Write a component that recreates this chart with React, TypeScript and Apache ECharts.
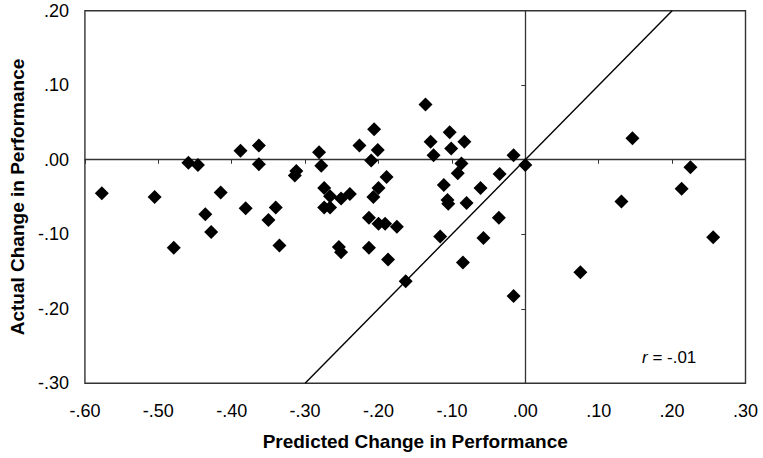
import React, { useEffect, useRef } from 'react';
import * as echarts from 'echarts';

// Predicted change (x) and actual change (y)
const predicted = [
  -0.577, -0.505, -0.459, -0.446, -0.436, -0.428, -0.415, -0.388, -0.381, -0.363,
  -0.363, -0.350, -0.340, -0.314, -0.312, -0.479, -0.335, -0.281, -0.278, -0.274,
  -0.266, -0.274, -0.266, -0.251, -0.239, -0.254, -0.251, -0.226, -0.206, -0.210,
  -0.201, -0.213, -0.213, -0.189, -0.200, -0.207, -0.200, -0.191, -0.175, -0.187,
  -0.163, -0.136, -0.129, -0.125, -0.103, -0.101, -0.083, -0.087, -0.092, -0.111,
  -0.106, -0.105, -0.080, -0.116, -0.085, -0.061, -0.057, -0.035, -0.036, -0.016,
  -0.016, 0.000, 0.075, 0.131, 0.146, 0.213, 0.225, 0.256,
];
const actual = [
  -0.045, -0.050, -0.004, -0.007, -0.073, -0.097, -0.044, 0.012, -0.065, 0.019,
  -0.006, -0.081, -0.064, -0.021, -0.015, -0.118, -0.115, 0.010, -0.008, -0.038,
  -0.049, -0.064, -0.064, -0.052, -0.046, -0.117, -0.124, 0.019, 0.041, -0.001,
  0.013, -0.078, -0.118, -0.023, -0.038, -0.050, -0.086, -0.086, -0.090, -0.134,
  -0.163, 0.074, 0.024, 0.006, 0.037, 0.015, 0.024, -0.005, -0.018, -0.034,
  -0.054, -0.059, -0.058, -0.103, -0.138, -0.038, -0.105, -0.019, -0.078, 0.006,
  -0.183, -0.007, -0.151, -0.056, 0.029, -0.039, -0.010, -0.104,
];

// Identity line (predicted = actual)
const identityX = [-0.3, 0.2];
const identityY = [-0.3, 0.2];

const xRange = [-0.6, 0.3];
const yRange = [-0.3, 0.2];
const tickStep = 0.1;

const xTitle = 'Predicted Change in Performance';
const yTitle = 'Actual Change in Performance';
const corrLabel = '-.01';

export default function App() {
  const ref = useRef<HTMLDivElement>(null);

  useEffect(() => {
    document.body.style.margin = '0';
    const chart = echarts.init(ref.current!, null, { renderer: 'svg' });
    const font = "'Liberation Sans', Arial, Helvetica, sans-serif";
    const fmt = (v: number) => {
      if (Math.abs(v) < 1e-9) return '.00';
      return v.toFixed(2).replace(/^(-?)0\./, '$1.');
    };
    const lineColor = '#333';

    chart.setOption({
      animation: false,
      grid: {
        left: 79,
        right: 17.5,
        top: 10.7,
        bottom: 74.7,
        show: true,
        borderColor: lineColor,
        borderWidth: 1.4,
        backgroundColor: 'transparent',
      },
      xAxis: [
        {
          type: 'value',
          min: xRange[0],
          max: xRange[1],
          interval: tickStep,
          axisLine: { show: false, onZero: false },
          axisTick: { show: false },
          splitLine: { show: false },
          axisLabel: { formatter: fmt, fontSize: 18, color: '#000', fontFamily: font, margin: 19 },
          name: xTitle,
          nameLocation: 'middle',
          nameGap: 49,
          nameTextStyle: { fontSize: 19, fontWeight: 'bold', color: '#000', fontFamily: font },
        },
        {
          type: 'value',
          min: xRange[0],
          max: xRange[1],
          interval: tickStep,
          position: 'top',
          axisLine: { show: true, onZero: true, onZeroAxisIndex: 0, lineStyle: { color: lineColor, width: 1.3 } },
          axisTick: { show: true, inside: true, length: 4, lineStyle: { color: lineColor, width: 1 } },
          axisLabel: { show: false },
          splitLine: { show: false },
        },
      ],
      yAxis: [
        {
          type: 'value',
          min: yRange[0],
          max: yRange[1],
          interval: tickStep,
          axisLine: { show: false, onZero: false },
          axisTick: { show: false },
          splitLine: { show: false },
          axisLabel: { formatter: fmt, fontSize: 18, color: '#000', fontFamily: font, margin: 16 },
          name: yTitle,
          nameLocation: 'middle',
          nameGap: 56,
          nameTextStyle: { fontSize: 19, fontWeight: 'bold', color: '#000', fontFamily: font },
        },
        {
          type: 'value',
          min: yRange[0],
          max: yRange[1],
          interval: tickStep,
          position: 'right',
          axisLine: { show: true, onZero: true, onZeroAxisIndex: 0, lineStyle: { color: lineColor, width: 1.3 } },
          axisTick: { show: true, inside: true, length: 4, lineStyle: { color: lineColor, width: 1 } },
          axisLabel: { show: false },
          splitLine: { show: false },
        },
      ],
      series: [
        {
          type: 'line',
          xAxisIndex: 0,
          yAxisIndex: 0,
          data: identityX.map((x, i) => [x, identityY[i]]),
          symbol: 'none',
          silent: true,
          lineStyle: { color: '#000', width: 1.4 },
        },
        {
          type: 'scatter',
          xAxisIndex: 0,
          yAxisIndex: 0,
          data: predicted.map((x, i) => [x, actual[i]]),
          symbol: 'diamond',
          symbolSize: 14,
          itemStyle: { color: '#000', opacity: 1 },
        },
      ],
      graphic: [
        {
          type: 'text',
          x: 642,
          y: 357,
          style: {
            text: '{i|r} = ' + corrLabel,
            fontSize: 17,
            fontFamily: font,
            fill: '#000',
            verticalAlign: 'middle',
            rich: {
              i: { fontStyle: 'italic', fontSize: 17, fontFamily: font, fill: '#000' },
            },
          },
        },
      ],
    });

    return () => chart.dispose();
  }, []);

  return <div ref={ref} style={{ width: 763, height: 458 }} />;
}
